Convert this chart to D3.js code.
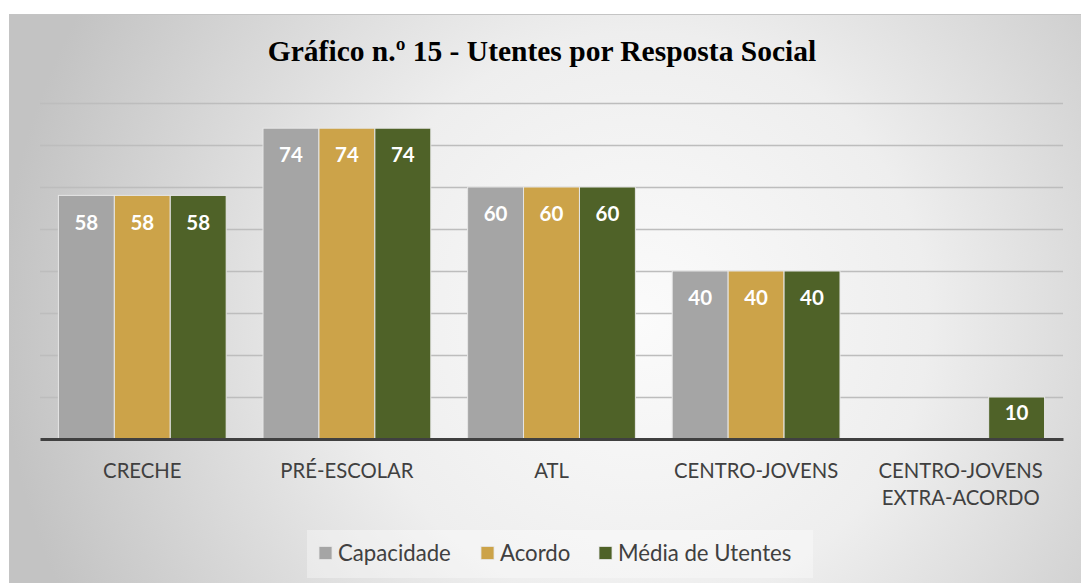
<!DOCTYPE html>
<html>
<head>
<meta charset="utf-8">
<script src="https://cdn.jsdelivr.net/npm/d3@7"></script>
<style>
  body { margin: 0; background: #fff; }
  svg { display: block; }
</style>
</head>
<body>
<div id="chart"></div>
<script>
// data
let categories = ['CRECHE', 'PRÉ-ESCOLAR', 'ATL', 'CENTRO-JOVENS', 'CENTRO-JOVENS\nEXTRA-ACORDO']
let seriesNames = ['Capacidade', 'Acordo', 'Média de Utentes']
let capacidade = [58, 74, 60, 40, null]
let acordo = [58, 74, 60, 40, null]
let mediaUtentes = [58, 74, 60, 40, 10]
let yTicks = [0, 10, 20, 30, 40, 50, 60, 70, 80]

let colors = ['#a5a5a5', '#cca349', '#4f6228']
let seriesValues = [capacidade, acordo, mediaUtentes]

let width = 1081
let height = 583
let margin = { top: 103, left: 40, right: 18, bottom: 144 }

let svg = d3
  .select('#chart')
  .append('svg')
  .attr('width', width)
  .attr('height', height)

let defs = svg.append('defs')
let grad = defs
  .append('radialGradient')
  .attr('id', 'bg')
  .attr('gradientUnits', 'userSpaceOnUse')
  .attr('cx', 640)
  .attr('cy', 320)
  .attr('r', 640)
grad.append('stop').attr('offset', '0%').attr('stop-color', '#fbfbfb')
grad.append('stop').attr('offset', '45%').attr('stop-color', '#eeeeee')
grad.append('stop').attr('offset', '100%').attr('stop-color', '#c3c3c3')

// chart area
svg
  .append('rect')
  .attr('x', 9.5)
  .attr('y', 14.5)
  .attr('width', width)
  .attr('height', height)
  .attr('fill', 'url(#bg)')
  .attr('stroke', '#c4c4c4')
  .attr('stroke-width', 1)

svg
  .append('text')
  .attr('x', 542)
  .attr('y', 61)
  .attr('text-anchor', 'middle')
  .attr('font-family', '"Liberation Serif", "Times New Roman", serif')
  .attr('font-weight', 'bold')
  .attr('font-size', 29.5)
  .attr('fill', '#000')
  .text('Gráfico n.º 15 - Utentes por Resposta Social')

let x0 = d3
  .scaleBand()
  .domain(categories)
  .range([margin.left, width - margin.right])
  .paddingInner(0.18)
  .paddingOuter(0.09)

let x1 = d3
  .scaleBand()
  .domain(seriesNames)
  .range([0, x0.bandwidth()])

let y = d3
  .scaleLinear()
  .domain([0, 80])
  .range([height - margin.bottom, margin.top])

// gridlines
let yAxis = d3
  .axisLeft(y)
  .tickValues(yTicks.slice(1))
  .tickSize(-(width - margin.left - margin.right))
  .tickFormat('')

svg
  .append('g')
  .attr('transform', 'translate(' + margin.left + ',0)')
  .call(yAxis)
  .call(g => g.select('.domain').remove())
  .call(g =>
    g
      .selectAll('.tick line')
      .attr('stroke', '#bdbdbd')
      .attr('stroke-width', 1.5)
  )

// bars
let bars = []
categories.forEach((c, i) => {
  seriesNames.forEach((s, j) => {
    let v = seriesValues[j][i]
    if (v !== null) bars.push({ cat: c, series: s, value: v, color: colors[j] })
  })
})

let barG = svg
  .selectAll('.bar')
  .data(bars)
  .enter()
  .append('g')
  .attr('class', 'bar')
  .attr('transform', d => 'translate(' + (x0(d.cat) + x1(d.series)) + ',0)')

barG
  .append('rect')
  .attr('x', 0)
  .attr('y', d => y(d.value))
  .attr('width', x1.bandwidth())
  .attr('height', d => y(0) - y(d.value))
  .attr('fill', d => d.color)
  .attr('stroke', '#e6e6e6')
  .attr('stroke-width', 1)

barG
  .append('text')
  .attr('x', x1.bandwidth() / 2)
  .attr('y', d => y(d.value) + (d.value >= 20 ? 27 : 16))
  .attr('dy', '0.35em')
  .attr('text-anchor', 'middle')
  .attr('font-family', 'Lato, sans-serif')
  .attr('font-weight', 'bold')
  .attr('font-size', 20.5)
  .attr('fill', '#fff')
  .text(d => d.value)

// baseline axis
let xAxis = d3.axisBottom(x0).tickSize(0).tickFormat('')
svg
  .append('g')
  .attr('transform', 'translate(0,' + y(0) + ')')
  .call(xAxis)
  .call(g =>
    g
      .select('.domain')
      .attr('stroke', '#404040')
      .attr('stroke-width', 3)
  )

// category labels
svg
  .selectAll('.cat-label')
  .data(categories)
  .enter()
  .append('text')
  .attr('class', 'cat-label')
  .attr('x', d => x0(d) + x0.bandwidth() / 2)
  .attr('y', 478)
  .attr('text-anchor', 'middle')
  .attr('font-family', 'Lato, sans-serif')
  .attr('font-size', 20.3)
  .attr('fill', '#404040')
  .each(function(d) {
    let lines = d.split('\n')
    let t = d3.select(this)
    lines.forEach((l, k) => {
      t.append('tspan')
        .attr('x', x0(d) + x0.bandwidth() / 2)
        .attr('dy', k === 0 ? 0 : 27)
        .text(l)
    })
  })

// legend
svg
  .append('rect')
  .attr('x', 307)
  .attr('y', 530)
  .attr('width', 506)
  .attr('height', 48)
  .attr('fill', '#ffffff')
  .attr('opacity', 0.35)

let legendX = [319, 481, 599]
let legend = svg
  .selectAll('.legend')
  .data(seriesNames)
  .enter()
  .append('g')
  .attr('class', 'legend')
  .attr('transform', (d, i) => 'translate(' + legendX[i] + ',553)')

legend
  .append('rect')
  .attr('x', 0)
  .attr('y', -6.5)
  .attr('width', 13)
  .attr('height', 13)
  .attr('fill', (d, i) => colors[i])
  .attr('stroke', '#e6e6e6')
  .attr('stroke-width', 0.8)

legend
  .append('text')
  .attr('x', 19)
  .attr('y', 0)
  .attr('dy', '0.35em')
  .attr('font-family', 'Lato, sans-serif')
  .attr('font-size', 22.2)
  .attr('fill', '#404040')
  .text(d => d)
</script>
</body>
</html>
